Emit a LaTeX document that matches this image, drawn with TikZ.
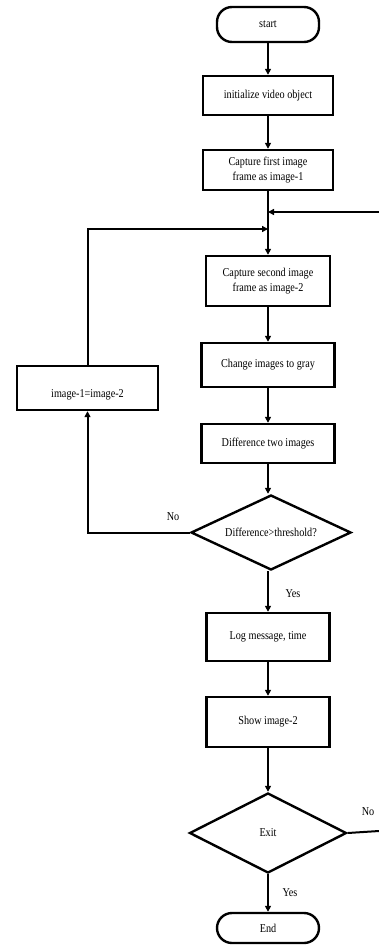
\documentclass[tikz,border=0pt]{standalone}
\usepackage{fontspec}
\setmainfont{Liberation Serif}[FakeStretch=0.85]
\usetikzlibrary{shapes.geometric,arrows.meta}
\begin{document}
\begin{tikzpicture}[x=1pt,y=-1pt,
  font=\fontsize{12}{14.5}\selectfont,
  box/.style={draw,line width=2.4pt,align=center,inner sep=0pt},
  term/.style={draw,line width=2.4pt,rounded corners=15pt,inner sep=0pt},
  dia/.style={draw,diamond,line width=2.4pt,inner sep=0pt,shape aspect=2},
  conn/.style={line width=2pt,-{Triangle[length=6pt,width=6pt]}},
  plain/.style={line width=2pt},
  lbl/.style={inner sep=0pt}]
\useasboundingbox (0,0) rectangle (379,945);
\node[term,minimum width=102pt,minimum height=35pt] (start) at (268,24.5) {start};
\node[box,minimum width=130pt,minimum height=39pt] (init) at (268,95.5) {initialize video object};
\node[box,minimum width=130pt,minimum height=40pt] (cap1) at (268,170) {Capture first image\\frame as image-1};
\node[box,minimum width=124pt,minimum height=50pt] (cap2) at (268,281) {Capture second image\\frame as image-2};
\node[box,minimum width=133pt,minimum height=44pt] (gray) at (268,365) {Change images to gray};
\node[box,minimum width=133pt,minimum height=39pt] (diff) at (268,443.5) {Difference two images};
\node[dia,minimum width=160pt,minimum height=75pt] (dec) at (271,532.5) {Difference>threshold?};
\node[box,minimum width=123pt,minimum height=48pt] (log) at (268,637) {Log message, time};
\node[box,minimum width=123pt,minimum height=50pt] (show) at (268,722) {Show image-2};
\node[dia,minimum width=157pt,minimum height=80pt] (exit) at (268,833) {Exit};
\node[term,minimum width=102pt,minimum height=30pt] (end) at (268,928) {End};
\node[box,minimum width=141pt,minimum height=44pt] (img) at (87.5,388) {\raisebox{-9pt}[0pt][0pt]{image-1=image-2}};
\coordinate (j1) at (268,212);
\coordinate (j2) at (268,229);
\coordinate (rin) at (379,212);
\coordinate (rout) at (379,831);
\draw[conn] (start) -- (init);
\draw[conn] (init) -- (cap1);
\draw[conn] (cap1) -- (cap2);
\draw[conn] (rin) -- (j1);
\draw[conn] (img.north) |- (j2);
\draw[conn] (cap2) -- (gray);
\draw[conn] (gray) -- (diff);
\draw[conn] (diff.south) -- (diff.south |- dec.north);
\draw[conn] (dec.west) -| (img.south);
\draw[conn] (dec.south -| log.north) -- (log.north);
\draw[conn] (log) -- (show);
\draw[conn] (show) -- (exit);
\draw[conn] (exit) -- (end);
\draw[plain] (exit.east) -- (rout);
\node[lbl] (no1) at (173,517) {No};
\node[lbl] (yes1) at (293,594) {Yes};
\node[lbl] (no2) at (368,812) {No};
\node[lbl] (yes2) at (290,893) {Yes};
\end{tikzpicture}
\end{document}
